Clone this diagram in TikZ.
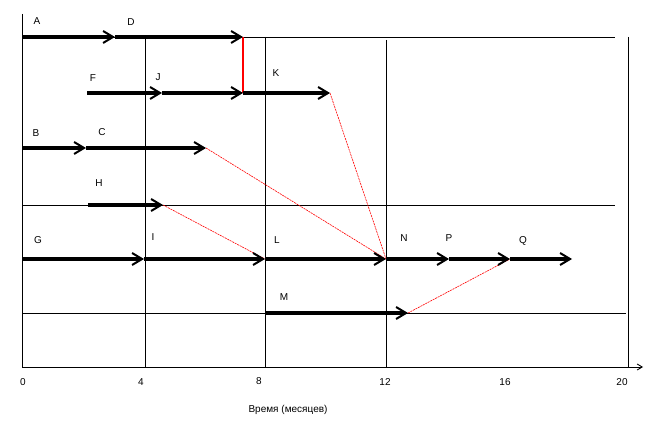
\documentclass[tikz,border=0pt]{standalone}
\usepackage{fontspec}
\setmainfont{Liberation Sans}
\usetikzlibrary{arrows.meta,positioning}

\begin{document}
\begin{tikzpicture}[x=1pt,y=-1pt,
    gridline/.style={black,line width=0.9pt},
    task/.style={black,line width=3.5pt,-{Straight Barb[length=10pt,width=12pt,line width=2pt]}},
    slack/.style={red,line width=0.6pt,dash pattern=on 2pt off 0.8pt},
    tag/.style={font=\fontsize{10}{12}\selectfont,inner sep=0pt}
]
    \useasboundingbox (0,0) rectangle (645,422);

    % Grid and axes
    \draw[gridline] (22,14) -- (22,367);
    \draw[gridline] (22,37) -- (615,37);
    \draw[gridline] (22,205) -- (615,205);
    \draw[gridline] (22,313) -- (626,313);
    \draw[gridline] (145,37) -- (145,367);
    \draw[gridline] (265,37) -- (265,367);
    \draw[gridline] (386,40) -- (386,367);
    \draw[gridline] (628,37) -- (628,367);
    \draw[gridline,-{Straight Barb[length=5pt,width=6pt]}] (22,367) -- (643,367);

    \node[tag] (t0) at (23,382) {0};
    \node[tag] (t4) at (141,382) {4};
    \node[tag] (t8) at (259,381) {8};
    \node[tag] (t12) at (385,382) {12};
    \node[tag] (t16) at (505,382) {16};
    \node[tag] (t20) at (622,382) {20};
    \node[tag] (title) at (288,410) {Время (месяцев)};

    % Events
    \coordinate (r1a) at (22,37);
    \coordinate (r1b) at (115,37);
    \coordinate (r1c) at (243,37);
    \coordinate (r2a) at (87,93);
    \coordinate (r2b) at (162,93);
    \coordinate (r2c) at (243,93);
    \coordinate (r2d) at (330,93);
    \coordinate (r3a) at (22,148);
    \coordinate (r3b) at (86,148);
    \coordinate (r3c) at (206,148);
    \coordinate (r4a) at (88,205);
    \coordinate (r4b) at (163,205);
    \coordinate (r5a) at (22,259);
    \coordinate (r5b) at (144,259);
    \coordinate (r5c) at (265,259);
    \coordinate (r5d) at (386,259);
    \coordinate (r5e) at (449,259);
    \coordinate (r5f) at (510,259);
    \coordinate (r5g) at (572,259);
    \coordinate (r6a) at (265,313);
    \coordinate (r6b) at (408,313);

    % Slack links
    \draw[red,line width=1.1pt] (r1c) -- (r2c);
    \draw[slack] (r2d) -- (r5d);
    \draw[slack] (r3c) -- (r5d);
    \draw[slack] (r4b) -- (r5c);
    \draw[slack] (r6b) -- (r5f);

    % Activities
    \draw[task] (r1a) -- (r1b);
    \draw[task] (r1b) -- (r1c);
    \draw[task] (r2a) -- (r2b);
    \draw[task] (r2b) -- (r2c);
    \draw[task] (r2c) -- (r2d);
    \draw[task] (r3a) -- (r3b);
    \draw[task] (r3b) -- (r3c);
    \draw[task] (r4a) -- (r4b);
    \draw[task] (r5a) -- (r5b);
    \draw[task] (r5b) -- (r5c);
    \draw[task] (r5c) -- (r5d);
    \draw[task] (r5d) -- (r5e);
    \draw[task] (r5e) -- (r5f);
    \draw[task] (r5f) -- (r5g);
    \draw[task] (r6a) -- (r6b);

    % Activity labels
    \node[tag] (labA) at (37,21) {A};
    \node[tag] (labD) at (131,22) {D};
    \node[tag] (labF) at (93,78) {F};
    \node[tag] (labJ) at (158,77) {J};
    \node[tag] (labK) at (276,73) {K};
    \node[tag] (labB) at (36,133) {B};
    \node[tag] (labC) at (102,132) {C};
    \node[tag] (labH) at (99,183) {H};
    \node[tag] (labG) at (38,240) {G};
    \node[tag] (labI) at (153,237) {I};
    \node[tag] (labL) at (277,240) {L};
    \node[tag] (labN) at (404,238) {N};
    \node[tag] (labP) at (449,238) {P};
    \node[tag] (labQ) at (523,241) {Q};
    \node[tag] (labM) at (284,297) {M};
\end{tikzpicture}
\end{document}
